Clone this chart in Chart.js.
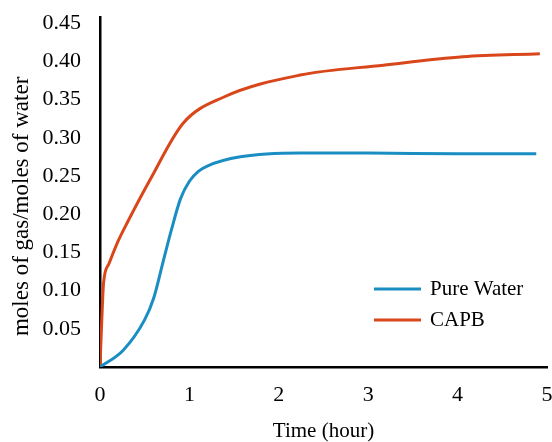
<!DOCTYPE html>
<html>
<head>
<meta charset="utf-8">
<script src="https://cdn.jsdelivr.net/npm/chart.js@4/dist/chart.umd.min.js"></script>
<style>
  html, body { margin: 0; padding: 0; background: #fff; }
  #wrap { width: 552px; height: 442px; }
</style>
</head>
<body>
<div id="wrap"><canvas id="grafica" width="552" height="442"></canvas></div>
<script>
// time in hours and moles of gas / moles of water
var waterHours = [0, 0.26, 0.5, 0.6, 0.7, 0.8, 0.9, 1.0, 1.1, 1.2, 1.57, 2.24, 3.0, 4.0, 4.88];
var waterMoles = [0, 0.022, 0.062, 0.09, 0.135, 0.18, 0.22, 0.243, 0.256, 0.263, 0.275, 0.28, 0.28, 0.279, 0.279];

var capbHours = [0, 0.02, 0.04, 0.1, 0.2, 0.31, 0.56, 0.93, 1.38, 2.24, 3.17, 4.06, 4.92];
var capbMoles = [0, 0.062, 0.11, 0.135, 0.164, 0.19, 0.245, 0.319, 0.353, 0.382, 0.395, 0.406, 0.41];

var yTicks = [0.05, 0.10, 0.15, 0.20, 0.25, 0.30, 0.35, 0.40, 0.45];
var xTicks = [0, 1, 2, 3, 4, 5];

var seriesNames = ['Pure Water', 'CAPB'];
var seriesColors = ['#1a8dc3', '#d9461a'];

function toPoints(xs, ys) {
    return xs.map(function (x, i) { return { x: x, y: ys[i] }; });
}

var serif = "'Liberation Serif', 'Times New Roman', serif";
Chart.defaults.font.family = serif;
Chart.defaults.color = '#000';

// legend drawn inside the plot, bottom right
var insideLegend = {
    id: 'insideLegend',
    afterDraw: function (chart) {
        var c = chart.ctx;
        var rows = [289, 320];
        c.save();
        c.font = '21px ' + serif;
        c.textBaseline = 'middle';
        c.fillStyle = '#000';
        chart.data.datasets.forEach(function (ds, i) {
            c.strokeStyle = ds.borderColor;
            c.lineWidth = 3;
            c.beginPath();
            c.moveTo(374, rows[i]);
            c.lineTo(421, rows[i]);
            c.stroke();
            c.fillText(ds.label, 430, rows[i]);
        });
        c.restore();
    }
};

var ctx = document.getElementById('grafica').getContext('2d');
var myChart = new Chart(ctx, {
    type: 'line',
    data: {
        datasets: [{
            label: seriesNames[0],
            data: toPoints(waterHours, waterMoles),
            borderColor: seriesColors[0],
            borderWidth: 3,
            pointRadius: 0,
            cubicInterpolationMode: 'monotone'
        }, {
            label: seriesNames[1],
            data: toPoints(capbHours, capbMoles),
            borderColor: seriesColors[1],
            borderWidth: 3,
            pointRadius: 0,
            cubicInterpolationMode: 'monotone'
        }]
    },
    options: {
        responsive: false,
        animation: false,
        layout: { padding: { top: 17, right: 5, left: 0, bottom: 0 } },
        plugins: {
            legend: { display: false },
            tooltip: { enabled: false }
        },
        scales: {
            x: {
                type: 'linear',
                min: 0,
                max: 5,
                afterBuildTicks: function (axis) {
                    axis.ticks = xTicks.map(function (v) { return { value: v }; });
                },
                afterFit: function (axis) {
                    axis.height = 75;
                    axis.paddingLeft = 0;
                    axis.paddingRight = 0;
                },
                grid: { display: false, drawTicks: false },
                border: { color: '#000', width: 2.5 },
                ticks: { padding: 15, font: { size: 22 }, maxRotation: 0 },
                title: {
                    display: true,
                    text: 'Time (hour)',
                    font: { size: 21, lineHeight: 1 },
                    padding: { top: 0, bottom: 0 }
                }
            },
            y: {
                min: 0,
                max: 0.458,
                afterBuildTicks: function (axis) {
                    axis.ticks = yTicks.map(function (v) { return { value: v }; });
                },
                afterFit: function (axis) {
                    axis.width = 100;
                    axis.paddingTop = 0;
                    axis.paddingBottom = 0;
                },
                grid: { display: false, drawTicks: false },
                border: { color: '#000', width: 2.5 },
                ticks: {
                    padding: 19,
                    font: { size: 22 },
                    callback: function (v) { return v.toFixed(2); }
                },
                title: {
                    display: true,
                    // trailing spaces nudge the label a bit lower, like the original
                    text: 'moles of gas/moles of water     ',
                    font: { size: 23 },
                    padding: { top: 8, bottom: 0 }
                }
            }
        }
    },
    plugins: [insideLegend]
});
</script>
</body>
</html>
